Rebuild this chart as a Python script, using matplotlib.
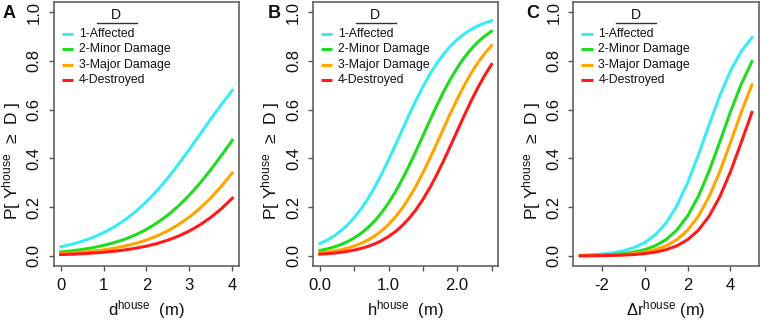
import matplotlib.pyplot as plt

# R-like look: Arial metrics, plain math text
plt.rcParams['font.family'] = ['Liberation Sans', 'DejaVu Sans']
plt.rcParams['mathtext.fontset'] = 'custom'
plt.rcParams['mathtext.rm'] = 'Liberation Sans'
plt.rcParams['mathtext.default'] = 'regular'

levels = ['1-Affected', '2-Minor Damage', '3-Major Damage', '4-Destroyed']
colors = ['#38ECF6', '#20DC20', '#FFA500', '#FF1A1A']

# Panel A: flood depth d (m)
depth = [0, 0.25, 0.5, 0.75, 1, 1.25, 1.5, 1.75, 2, 2.25, 2.5, 2.75, 3, 3.25, 3.5, 3.75, 4]
depth_affected = [0.0373, 0.0474, 0.0601, 0.0759, 0.0953, 0.1192, 0.1480, 0.1824, 0.2227,
                  0.2689, 0.3208, 0.3775, 0.4378, 0.5000, 0.5622, 0.6225, 0.6792]
depth_minor = [0.0163, 0.0208, 0.0266, 0.0339, 0.0431, 0.0547, 0.0691, 0.0870, 0.1091,
               0.1359, 0.1680, 0.2059, 0.2497, 0.2994, 0.3543, 0.4134, 0.4750]
depth_major = [0.0094, 0.0120, 0.0154, 0.0196, 0.0251, 0.0320, 0.0407, 0.0517, 0.0654,
               0.0824, 0.1034, 0.1290, 0.1597, 0.1962, 0.2387, 0.2870, 0.3407]
depth_destroyed = [0.0056, 0.0072, 0.0093, 0.0119, 0.0152, 0.0195, 0.0248, 0.0317, 0.0403,
                   0.0512, 0.0648, 0.0817, 0.1025, 0.1279, 0.1584, 0.1947, 0.2369]

# Panel B: height h (m)
height = [0, 0.1, 0.2, 0.3, 0.4, 0.5, 0.6, 0.7, 0.8, 0.9, 1.0, 1.1, 1.2, 1.3, 1.4, 1.5,
          1.6, 1.7, 1.8, 1.9, 2.0, 2.1, 2.2, 2.3, 2.4, 2.5]
height_affected = [0.0507, 0.0641, 0.0809, 0.1016, 0.1267, 0.1571, 0.1931, 0.2351, 0.2829,
                   0.3363, 0.3941, 0.4551, 0.5175, 0.5793, 0.6387, 0.6942, 0.7446, 0.7892,
                   0.8278, 0.8606, 0.8880, 0.9106, 0.9289, 0.9438, 0.9556, 0.9651]
height_minor = [0.0223, 0.0285, 0.0363, 0.0461, 0.0584, 0.0738, 0.0928, 0.1161, 0.1443,
                0.1780, 0.2175, 0.2631, 0.3143, 0.3705, 0.4305, 0.4925, 0.5548, 0.6154,
                0.6726, 0.7251, 0.7721, 0.8130, 0.8481, 0.8776, 0.9020, 0.9220]
height_major = [0.0120, 0.0154, 0.0196, 0.0251, 0.0320, 0.0407, 0.0517, 0.0654, 0.0824,
                0.1034, 0.1290, 0.1597, 0.1962, 0.2387, 0.2870, 0.3407, 0.3989, 0.4601,
                0.5225, 0.5842, 0.6434, 0.6984, 0.7484, 0.7925, 0.8306, 0.8630]
height_destroyed = [0.0070, 0.0090, 0.0115, 0.0148, 0.0189, 0.0241, 0.0308, 0.0392, 0.0497,
                    0.0630, 0.0794, 0.0998, 0.1246, 0.1545, 0.1900, 0.2315, 0.2789, 0.3318,
                    0.3894, 0.4502, 0.5125, 0.5744, 0.6341, 0.6900, 0.7408, 0.7858]

# Panel C: change in r (m)
delta_r = [-3, -2.5, -2, -1.5, -1, -0.5, 0, 0.5, 1, 1.5, 2, 2.5, 3, 3.5, 4, 4.5, 5]
delta_affected = [0.0029, 0.0047, 0.0078, 0.0127, 0.0208, 0.0339, 0.0547, 0.0870, 0.1359,
                  0.2059, 0.2994, 0.4134, 0.5374, 0.6570, 0.7595, 0.8389, 0.8957]
delta_minor = [0.0013, 0.0022, 0.0036, 0.0059, 0.0097, 0.0158, 0.0258, 0.0419, 0.0672,
               0.1062, 0.1638, 0.2442, 0.3475, 0.4675, 0.5915, 0.7048, 0.7974]
delta_major = [0.0008, 0.0013, 0.0022, 0.0035, 0.0058, 0.0096, 0.0157, 0.0256, 0.0415,
               0.0666, 0.1053, 0.1625, 0.2423, 0.3453, 0.4651, 0.5890, 0.7027]
delta_destroyed = [0.0005, 0.0008, 0.0013, 0.0022, 0.0035, 0.0058, 0.0096, 0.0157, 0.0256,
                   0.0415, 0.0666, 0.1053, 0.1625, 0.2423, 0.3453, 0.4651, 0.5890]

panels = [
    ('A', depth, [depth_affected, depth_minor, depth_major, depth_destroyed],
     r'd$^{house}$  (m)', [0, 1, 2, 3, 4], ['0', '1', '2', '3', '4']),
    ('B', height, [height_affected, height_minor, height_major, height_destroyed],
     r'h$^{house}$  (m)', [0, 0.5, 1.0, 1.5, 2.0, 2.5], ['0.0', '', '1.0', '', '2.0', '']),
    ('C', delta_r, [delta_affected, delta_minor, delta_major, delta_destroyed],
     r'$\Delta$r$^{house}$ (m)', [-2, 0, 2, 4], ['-2', '0', '2', '4']),
]

frame_col = '#555555'
text_col = '#111111'

fig = plt.figure(figsize=(7.61, 3.2), dpi=100)
lefts = [0.0707, 0.4113, 0.7535]
letter_x = [0.004, 0.352, 0.692]

for i, (letter, xs, series, xlab, xt, xtl) in enumerate(panels):
    ax = fig.add_axes([lefts[i], 0.1697, 0.2436, 0.8225])
    for ys, col in zip(series, colors):
        ax.plot(xs, ys, color=col, lw=2.2)

    # R default 4% axis padding
    span = xs[-1] - xs[0]
    ax.set_xlim(xs[0] - 0.04 * span, xs[-1] + 0.04 * span)
    ax.set_ylim(-0.04, 1.04)

    ax.set_xticks(xt)
    ax.set_xticklabels(xtl)
    ax.set_yticks([0, 0.2, 0.4, 0.6, 0.8, 1.0])
    ax.set_yticklabels(['0.0', '0.2', '0.4', '0.6', '0.8', '1.0'], rotation=90, va='center')
    ax.tick_params(length=3.6, width=1.0, color=frame_col, labelsize=12, labelcolor=text_col, pad=5)
    for sp in ax.spines.values():
        sp.set_color(frame_col)
        sp.set_linewidth(1.1)

    ax.set_xlabel(xlab, fontsize=12, color=text_col, labelpad=4)
    ax.set_ylabel('P[ Y$^{house}$  \u2265  D ]', fontsize=12.5, color=text_col)
    ax.yaxis.set_label_coords(-0.166, 0.40)

    # legend drawn like R's legend() with an underlined title
    ax.text(0.3355, 0.952, 'D', transform=ax.transAxes, ha='center', va='center',
            fontsize=10, color=text_col)
    ax.plot([0.231, 0.447], [0.921, 0.921], transform=ax.transAxes, color='#333333', lw=1.0)
    rows = [0.882, 0.823, 0.764, 0.706]
    for lab, col, yy in zip(levels, colors, rows):
        ax.plot([0.043, 0.105], [yy, yy], transform=ax.transAxes, color=col, lw=2.2,
                solid_capstyle='butt')
        ax.text(0.134, yy, lab, transform=ax.transAxes, va='center', fontsize=8.8,
                color=text_col)

    fig.text(letter_x[i], 1 - 18 / 320, letter, fontsize=13, fontweight='bold',
             ha='left', va='baseline', color=text_col)

fig.savefig('out.png', dpi=100)
